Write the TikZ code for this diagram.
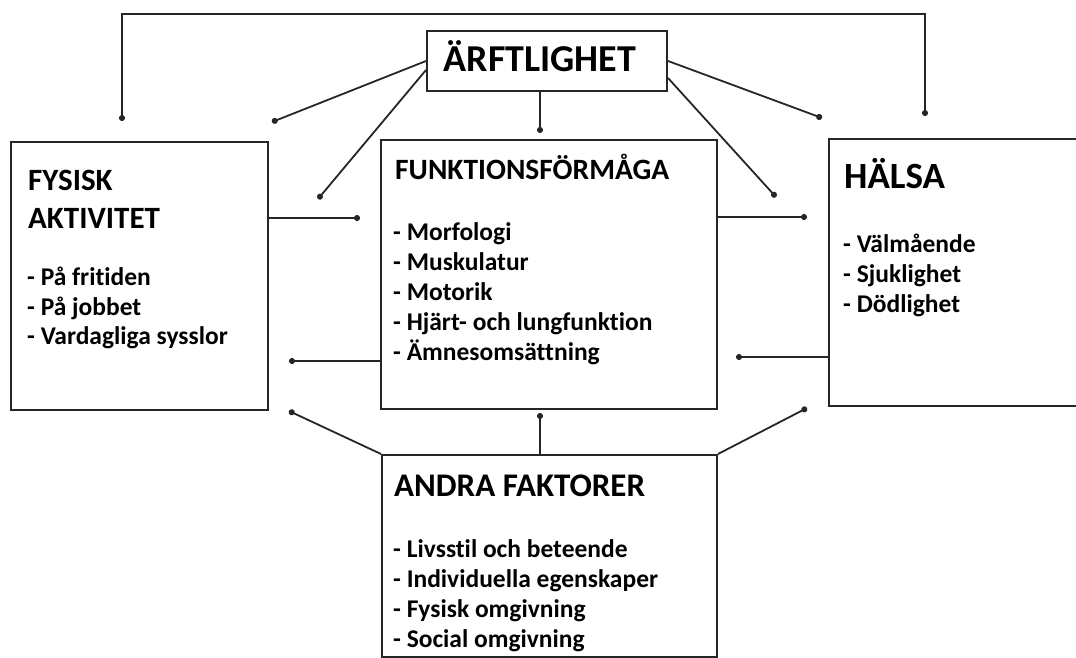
\documentclass[tikz,border=0pt]{standalone}
\usepackage{fontspec}
\setmainfont{Carlito}[Ligatures=NoCommon]
\usetikzlibrary{arrows.meta}

\begin{document}
\begin{tikzpicture}[x=1pt,y=-1pt]
	\useasboundingbox (0,0) rectangle (1076,658);
	\begin{scope}[every node/.style = {draw=black!85, line width=2pt, rectangle,
			inner sep=0pt, anchor=north west}]
		\node[minimum width=240pt, minimum height=60pt] (arv) at (426,30) {};
		\node[minimum width=257pt, minimum height=268pt] (fa) at (10,141) {};
		\node[minimum width=336pt, minimum height=269pt] (fu) at (380,139) {};
		\node[minimum width=270pt, minimum height=267pt] (ha) at (828,138) {};
		\node[minimum width=335pt, minimum height=202pt] (an) at (381,454) {};
	\end{scope}
	\begin{scope}[every node/.style = {anchor=base west, inner sep=0pt,
			font=\bfseries\fontsize{25.5}{28}\selectfont}]
		\node[anchor=base, font=\bfseries\fontsize{38}{42}\selectfont] (arv-t) at (540,72) {ÄRFTLIGHET};
		\node[font=\bfseries\fontsize{31}{34}\selectfont] (fa-t1) at (28,190) {FYSISK};
		\node[font=\bfseries\fontsize{31}{34}\selectfont] (fa-t2) at (28,228) {AKTIVITET};
		\node (fa-1) at (27,285) {- På fritiden};
		\node (fa-2) at (27,315) {- På jobbet};
		\node (fa-3) at (27,344) {- Vardagliga sysslor};
		\node[font=\bfseries\fontsize{29.5}{32}\selectfont] (fu-t) at (395,179) {FUNKTIONSFÖRMÅGA};
		\node (fu-1) at (393,240) {- Morfologi};
		\node (fu-2) at (393,270) {- Muskulatur};
		\node (fu-3) at (393,300) {- Motorik};
		\node (fu-4) at (393,330) {- Hjärt- och lungfunktion};
		\node (fu-5) at (393,360) {- Ämnesomsättning};
		\node[font=\bfseries\fontsize{37}{40}\selectfont] (ha-t) at (844,188) {HÄLSA};
		\node (ha-1) at (843,252) {- Välmående};
		\node (ha-2) at (843,282) {- Sjuklighet};
		\node (ha-3) at (843,312) {- Dödlighet};
		\node[font=\bfseries\fontsize{33}{36}\selectfont] (an-t) at (394,496) {ANDRA FAKTORER};
		\node (an-1) at (393,557) {- Livsstil och beteende};
		\node (an-2) at (393,587) {- Individuella egenskaper};
		\node (an-3) at (393,617) {- Fysisk omgivning};
		\node (an-4) at (393,647) {- Social omgivning};
	\end{scope}
	% dot ends
	\coordinate (fa-top) at (122,121);
	\coordinate (ha-top) at (925,116);
	\coordinate (top-bar) at (520,14);
	\coordinate (arv-fa) at (272,122);
	\coordinate (arv-ful) at (318,199);
	\coordinate (arv-ha) at (822,118);
	\coordinate (arv-fur) at (776,197);
	\coordinate (arv-fu) at (540,133);
	\coordinate (fa-fu) at (360,218);
	\coordinate (fu-ha) at (807,217);
	\coordinate (fu-fa) at (289,361);
	\coordinate (ha-fu) at (736,357);
	\coordinate (an-fa) at (289,411);
	\coordinate (an-ha) at (807,408);
	\coordinate (an-fu) at (540,413);
	\begin{scope}[>={Circle[length=6pt]},
			every edge/.style={draw=black!85, line width=1.8pt}]
		\path [<->] (fa-top) edge[to path={|- (top-bar) -| (\tikztotarget)}] (ha-top);
		\path [->] (arv.west) edge (arv-fa);
		\path [->] ([yshift=-9pt]arv.west) edge (arv-ful);
		\path [->] (arv.east) edge (arv-ha);
		\path [->] ([yshift=-17pt]arv.east) edge (arv-fur);
		\path [->] (arv.south -| arv-fu) edge (arv-fu);
		\path [->] (fa.east |- fa-fu) edge (fa-fu);
		\path [->] (fu.east |- fu-ha) edge (fu-ha);
		\path [->] (fu.west |- fu-fa) edge (fu-fa);
		\path [->] (ha.west |- ha-fu) edge (ha-fu);
		\path [->] (an.north west) edge (an-fa);
		\path [->] (an.north east) edge (an-ha);
		\path [->] (an.north -| an-fu) edge (an-fu);
	\end{scope}

\end{tikzpicture}
\end{document}
